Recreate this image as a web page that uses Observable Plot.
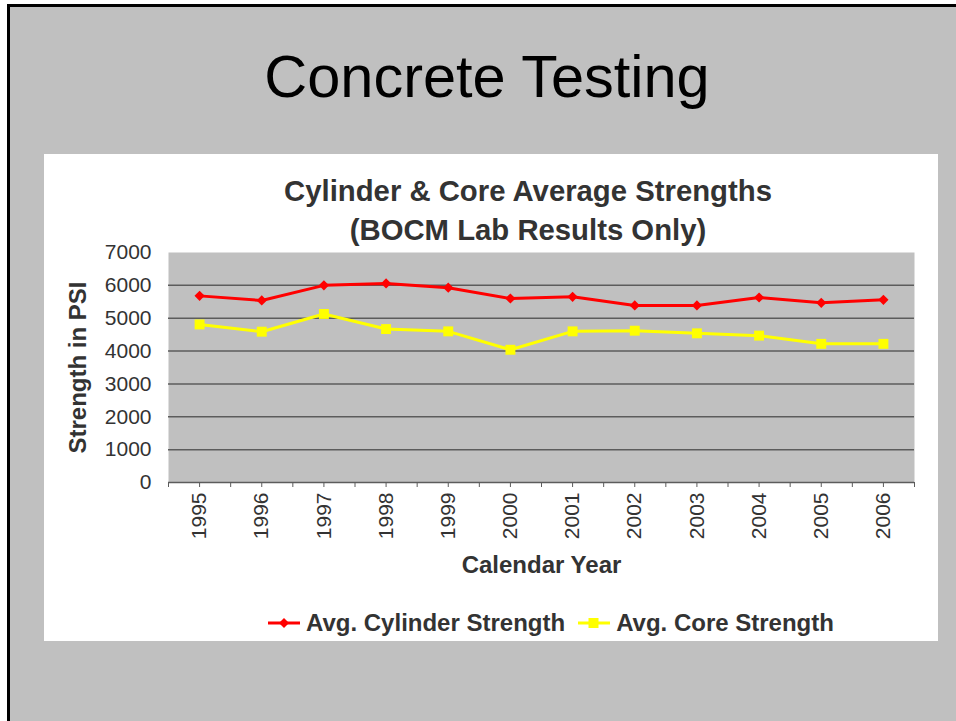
<!DOCTYPE html>
<html>
<head>
<meta charset="utf-8">
<script src="https://cdn.jsdelivr.net/npm/d3@7"></script>
<script src="https://cdn.jsdelivr.net/npm/@observablehq/plot@0.6"></script>
<style>
  html, body { margin: 0; padding: 0; background: #ffffff; width: 956px; height: 721px; overflow: hidden; }
  body { position: relative; font-family: "Liberation Sans", Arial, sans-serif; }
  #slide { position: absolute; left: 7px; top: 4px; width: 1000px; height: 1000px; background: #c0c0c0;
           border-left: 3px solid #000; border-top: 3px solid #000; }
  #title { position: absolute; left: 0; width: 974px; top: 47px; text-align: center; font-size: 59.5px; line-height: 59.5px; color: #000; }
  #box { position: absolute; left: 44px; top: 154px; width: 894px; height: 487px; background: #fff; }
  #ctitle { position: absolute; left: 278px; width: 500px; top: 171px; text-align: center;
            font-weight: bold; font-size: 29.3px; line-height: 39px; color: #333; white-space: nowrap; }
  #chart { position: absolute; left: 44px; top: 240px; }
  #legend { position: absolute; left: 268px; top: 611px; display: flex; align-items: center; font-weight: bold; font-size: 24px;
            line-height: 24px; color: #333; white-space: nowrap; }
  #legend svg { display: block; }
</style>
</head>
<body>
<div id="slide"></div>
<div id="title">Concrete Testing</div>
<div id="box"></div>
<div id="ctitle">Cylinder &amp; Core Average Strengths<br>(BOCM Lab Results Only)</div>
<div id="chart"></div>
<div id="legend"></div>
<script>
// ---- data ----
const years = [1995, 1996, 1997, 1998, 1999, 2000, 2001, 2002, 2003, 2004, 2005, 2006];
const cylinder = [5680, 5540, 6000, 6060, 5930, 5600, 5650, 5390, 5390, 5630, 5470, 5560];
const core = [4810, 4590, 5130, 4670, 4600, 4040, 4600, 4620, 4540, 4470, 4220, 4220];
const seriesNames = ["Avg. Cylinder Strength", "Avg. Core Strength"];
const seriesColors = ["#ff0000", "#ffff00"];
const yTicks = [0, 1000, 2000, 3000, 4000, 5000, 6000, 7000];
const yTitle = "Strength in PSI";
const xTitle = "Calendar Year";

const rows = [];
years.forEach((y, i) => {
  rows.push({year: y, value: cylinder[i], series: seriesNames[0]});
  rows.push({year: y, value: core[i], series: seriesNames[1]});
});
const cylRows = rows.filter(d => d.series === seriesNames[0]);
const coreRows = rows.filter(d => d.series === seriesNames[1]);

// category boundaries and centers for tick marks
const xMin = years[0] - 0.5, xMax = years[years.length - 1] + 0.5;
const halfTicks = [];
for (let i = 0; i < years.length; i++) { halfTicks.push(years[i] - 0.5, years[i]); }
halfTicks.push(xMax);

const font = '"Liberation Sans", Arial, sans-serif';

const chart = Plot.plot({
  width: 894,
  height: 345,
  marginLeft: 124,
  marginRight: 24,
  marginTop: 12,
  marginBottom: 103,
  style: {fontFamily: font, background: "transparent", color: "#333", overflow: "visible"},
  x: {domain: [xMin, xMax]},
  y: {domain: [0, 7000]},
  marks: [
    Plot.frame({fill: "#c0c0c0", stroke: null}),
    Plot.gridY(yTicks.filter(t => t > 0 && t < 7000), {stroke: "#5c5c5c", strokeOpacity: 1, strokeWidth: 1.5}),
    Plot.ruleY([0], {stroke: "#5c5c5c", strokeWidth: 1.5}),
    Plot.axisY(yTicks, {tickSize: 0, tickPadding: 17, fontSize: 21, fill: "#333", label: null, tickFormat: d => String(d)}),
    Plot.axisX(halfTicks, {tickSize: 5, stroke: "#5c5c5c", tickRotate: -90, tickPadding: 5, fontSize: 21, fill: "#333",
      label: null, tickFormat: d => Number.isInteger(d) ? String(d) : ""}),
    Plot.line(cylRows, {x: "year", y: "value", stroke: seriesColors[0], strokeWidth: 3}),
    Plot.line(coreRows, {x: "year", y: "value", stroke: seriesColors[1], strokeWidth: 3}),
    Plot.dot(cylRows, {x: "year", y: "value", symbol: "diamond2", r: 4.6, fill: seriesColors[0], stroke: null}),
    Plot.dot(coreRows, {x: "year", y: "value", symbol: "square", r: 5.6, fill: seriesColors[1], stroke: null}),
    Plot.text([yTitle], {frameAnchor: "left", dx: -90, textAnchor: "middle", lineAnchor: "middle", rotate: -90,
      fontWeight: "bold", fontSize: 24, fill: "#333"}),
    Plot.text([xTitle], {frameAnchor: "bottom", dy: 90, lineAnchor: "bottom", fontWeight: "bold", fontSize: 24, fill: "#333"})
  ]
});
document.getElementById("chart").appendChild(chart);

// legend
const legend = document.getElementById("legend");
const shapes = [
  c => `<polygon points="16,2 21,7 16,12 11,7" fill="${c}"/>`,
  c => `<rect x="10.5" y="2" width="10" height="10" fill="${c}"/>`
];
seriesNames.forEach((name, i) => {
  const sw = document.createElement("span");
  sw.innerHTML = `<svg width="32" height="14"><line x1="0" y1="7" x2="32" y2="7" stroke="${seriesColors[i]}" stroke-width="3"/>${shapes[i](seriesColors[i])}</svg>`;
  sw.style.marginRight = "6px";
  sw.style.marginLeft = i === 0 ? "0" : "13px";
  const t = document.createElement("span");
  t.textContent = name;
  legend.appendChild(sw);
  legend.appendChild(t);
});
</script>
</body>
</html>
